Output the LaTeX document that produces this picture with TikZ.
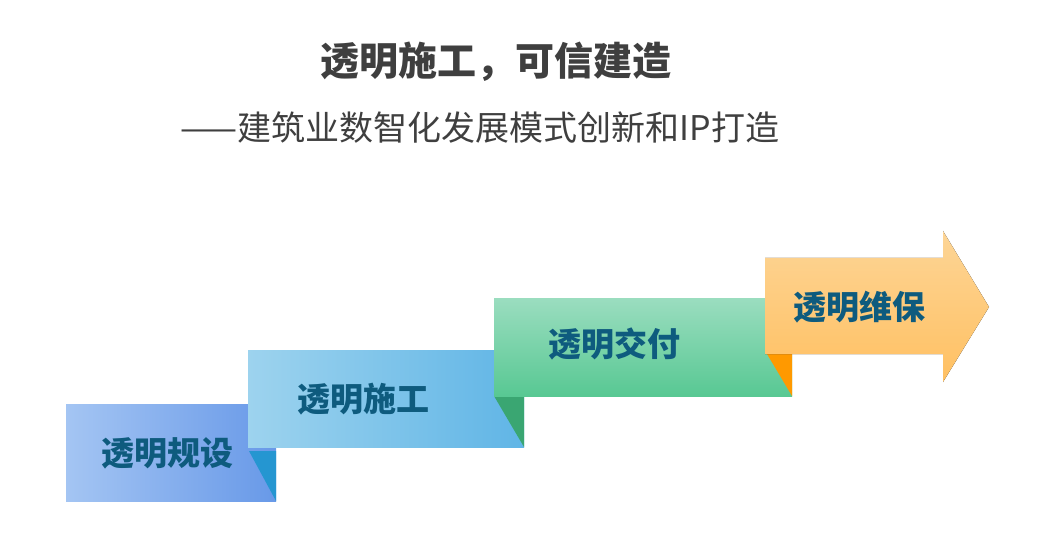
\documentclass[tikz,border=0pt]{standalone}
\usepackage{fontspec}
\newfontfamily\cjk{Noto Sans CJK SC}
\definecolor{titlegray}{HTML}{3F3F3F}
\definecolor{labelblue}{HTML}{0E5B7E}
\definecolor{planL}{HTML}{A4C5F3}
\definecolor{planR}{HTML}{6899E8}
\definecolor{planfold}{HTML}{2596D1}
\definecolor{buildL}{HTML}{9DD3EE}
\definecolor{buildR}{HTML}{60B5E6}
\definecolor{buildfold}{HTML}{3AA672}
\definecolor{deliverT}{HTML}{9ADDBF}
\definecolor{deliverB}{HTML}{58C893}
\definecolor{deliverfold}{HTML}{FF9900}
\definecolor{keepT}{HTML}{FDD596}
\definecolor{keepB}{HTML}{FFC062}
\begin{document}
\begin{tikzpicture}[x=1pt,y=-1pt,
  steptext/.style={font=\cjk\bfseries\fontsize{33}{33}\selectfont, text=labelblue, inner sep=0pt}]
\useasboundingbox (0,0) rectangle (1046,534);

% headings
\node[font=\cjk\bfseries\fontsize{39}{39}\selectfont, text=titlegray, inner sep=0pt] (title) at (496,62) {透明施工，可信建造};
\node[font=\cjk\fontsize{34}{34}\selectfont, text=titlegray, inner sep=0pt] (subtitle) at (480,128) {——建筑业数智化发展模式创新和IP打造};

% step 1
\fill[left color=planL, right color=planR] (66,404) rectangle (276,501);
\fill[planfold] (249,451) -- (276,451) -- (276,501) -- cycle;
% step 2
\fill[left color=buildL, right color=buildR] (248,350) rectangle (524,447);
\fill[buildfold] (494,396) -- (524,396) -- (524,447) -- cycle;
% step 3
\fill[top color=deliverT, bottom color=deliverB] (494,299) rectangle (792,396);
\fill[deliverfold] (767,354) -- (792,354) -- (792,396) -- cycle;
% step 4 (arrow)
\fill[top color=keepT, bottom color=keepB] (765,258) -- (943,258) -- (943,231) -- (989,307)
  -- (943,382) -- (943,354) -- (765,354) -- cycle;

\node[steptext] (plan) at (167,453) {透明规设};
\node[steptext] (build) at (363,399) {透明施工};
\node[steptext] (deliver) at (614,344) {透明交付};
\node[steptext] (keep) at (859,307) {透明维保};
\end{tikzpicture}
\end{document}
